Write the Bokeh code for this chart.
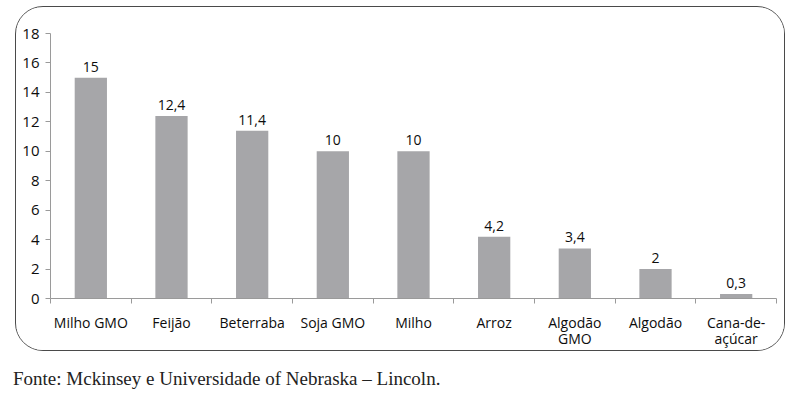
from bokeh.plotting import figure
from bokeh.models import ColumnDataSource, FixedTicker, LabelSet, Range1d, Div
from bokeh.layouts import column
from bokeh.core.properties import value
from bokeh.embed import file_html
from bokeh.resources import INLINE

# Crops and their values
categories = ["Milho GMO", "Feijão", "Beterraba", "Soja GMO", "Milho",
              "Arroz", "Algodão\nGMO", "Algodão", "Cana-de-\naçúcar"]
values = [15, 12.4, 11.4, 10, 10, 4.2, 3.4, 2, 0.3]
y_ticks = [0, 2, 4, 6, 8, 10, 12, 14, 16, 18]
source_note = "Fonte: Mckinsey e Universidade of Nebraska – Lincoln."

FONT = "Open Sans"
TEXT = "#0d0d0d"
BAR = "#a6a6a9"
AXIS = "#9a9a9a"

positions = [i + 0.5 for i in range(len(categories))]
labels = [f"{v:g}".replace(".", ",") for v in values]
src = ColumnDataSource(dict(x=positions, top=values, label=labels))

p = figure(width=770, height=345, output_backend="svg", toolbar_location=None,
           x_range=Range1d(0, len(categories)), y_range=Range1d(0, 18),
           min_border_left=34, min_border_right=10,
           min_border_top=26, min_border_bottom=54)
p.outline_line_color = None
p.xgrid.visible = False
p.ygrid.visible = False
p.background_fill_color = "white"
p.border_fill_color = "white"
# rounded frame around the chart
p.margin = (6, 0, 0, 15)
p.styles = {"border": "1.5px solid #4a4a4a", "border-radius": "28px",
            "overflow": "hidden"}

p.vbar(x="x", top="top", width=0.4, source=src, fill_color=BAR, line_color=None)

p.add_layout(LabelSet(x="x", y="top", text="label", source=src,
                      text_align="center", text_baseline="bottom", y_offset=6,
                      text_font=value(FONT), text_font_size="14px",
                      text_color=TEXT))

# x axis: labels centred under bars, ticks at the category boundaries
xa = p.xaxis[0]
xa.ticker = FixedTicker(ticks=positions,
                        minor_ticks=list(range(len(categories) + 1)))
xa.major_label_overrides = {p_: c for p_, c in zip(positions, categories)}
xa.major_tick_out = 0
xa.major_tick_in = 0
xa.minor_tick_out = 5
xa.minor_tick_in = 0
xa.minor_tick_line_color = AXIS
xa.axis_line_color = AXIS
xa.major_label_standoff = 9
xa.major_label_text_font = FONT
xa.major_label_text_font_size = "14px"
xa.major_label_text_color = TEXT
xa.major_label_text_line_height = 0.85

ya = p.yaxis[0]
ya.ticker = FixedTicker(ticks=y_ticks)
ya.major_tick_out = 5
ya.major_tick_in = 0
ya.minor_tick_line_color = None
ya.major_tick_line_color = AXIS
ya.axis_line_color = AXIS
ya.major_label_standoff = 6
ya.major_label_text_font = FONT
ya.major_label_text_font_size = "15px"
ya.major_label_text_color = TEXT

note = Div(text=source_note, width=700, margin=(17, 0, 0, 13),
           styles={"font-family": "'Liberation Serif', serif",
                   "font-size": "19px", "line-height": "22px",
                   "color": "#222222"})

layout = column(p, note, spacing=0)
open("out.html", "w").write(file_html(layout, INLINE))
